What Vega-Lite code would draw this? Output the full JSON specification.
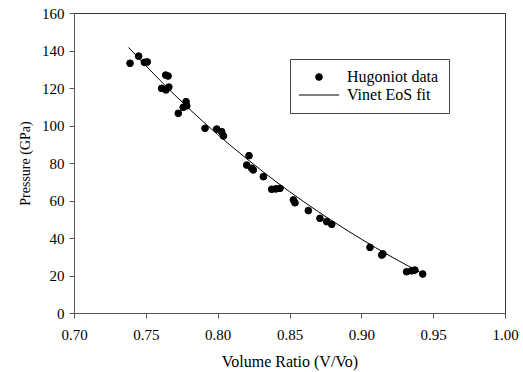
{
  "$schema": "https://vega.github.io/schema/vega-lite/v6.json",
  "width": 431,
  "height": 300,
  "autosize": "none",
  "padding": {"left": 74, "top": 13, "right": 18, "bottom": 59},
  "background": "white",
  "config": {
    "font": "Times New Roman",
    "view": {"stroke": "#333333", "strokeWidth": 1},
    "axis": {
      "grid": false,
      "labelFont": "Times New Roman",
      "titleFont": "Times New Roman",
      "labelFontSize": 15,
      "titleFontSize": 15,
      "labelColor": "black",
      "titleColor": "black",
      "titleFontWeight": "normal",
      "domainColor": "#555555",
      "tickColor": "#555555",
      "tickSize": 5
    },
    "legend": {
      "labelFont": "Times New Roman"
    }
  },
  "datasets": {
    "hugoniot": [
      {"v": 0.739, "p": 133.2, "series": "Hugoniot data"},
      {"v": 0.745, "p": 137.0, "series": "Hugoniot data"},
      {"v": 0.749, "p": 133.7, "series": "Hugoniot data"},
      {"v": 0.751, "p": 133.9, "series": "Hugoniot data"},
      {"v": 0.7638, "p": 126.9, "series": "Hugoniot data"},
      {"v": 0.7655, "p": 126.4, "series": "Hugoniot data"},
      {"v": 0.761, "p": 119.8, "series": "Hugoniot data"},
      {"v": 0.764, "p": 119.0, "series": "Hugoniot data"},
      {"v": 0.766, "p": 120.5, "series": "Hugoniot data"},
      {"v": 0.778, "p": 112.7, "series": "Hugoniot data"},
      {"v": 0.776, "p": 109.7, "series": "Hugoniot data"},
      {"v": 0.7726, "p": 106.5, "series": "Hugoniot data"},
      {"v": 0.7785, "p": 110.5, "series": "Hugoniot data"},
      {"v": 0.7912, "p": 98.5, "series": "Hugoniot data"},
      {"v": 0.7993, "p": 98.1, "series": "Hugoniot data"},
      {"v": 0.8028, "p": 96.7, "series": "Hugoniot data"},
      {"v": 0.804, "p": 94.4, "series": "Hugoniot data"},
      {"v": 0.8218, "p": 83.9, "series": "Hugoniot data"},
      {"v": 0.8202, "p": 78.9, "series": "Hugoniot data"},
      {"v": 0.8237, "p": 77.2, "series": "Hugoniot data"},
      {"v": 0.8248, "p": 76.3, "series": "Hugoniot data"},
      {"v": 0.8318, "p": 72.7, "series": "Hugoniot data"},
      {"v": 0.8376, "p": 66.0, "series": "Hugoniot data"},
      {"v": 0.8405, "p": 66.2, "series": "Hugoniot data"},
      {"v": 0.8434, "p": 66.5, "series": "Hugoniot data"},
      {"v": 0.8527, "p": 60.3, "series": "Hugoniot data"},
      {"v": 0.8538, "p": 58.8, "series": "Hugoniot data"},
      {"v": 0.8631, "p": 54.6, "series": "Hugoniot data"},
      {"v": 0.8712, "p": 50.5, "series": "Hugoniot data"},
      {"v": 0.8759, "p": 48.7, "series": "Hugoniot data"},
      {"v": 0.8794, "p": 47.3, "series": "Hugoniot data"},
      {"v": 0.906, "p": 35.0, "series": "Hugoniot data"},
      {"v": 0.9142, "p": 30.9, "series": "Hugoniot data"},
      {"v": 0.915, "p": 31.5, "series": "Hugoniot data"},
      {"v": 0.9315, "p": 22.0, "series": "Hugoniot data"},
      {"v": 0.935, "p": 22.5, "series": "Hugoniot data"},
      {"v": 0.9373, "p": 22.9, "series": "Hugoniot data"},
      {"v": 0.9427, "p": 20.8, "series": "Hugoniot data"}
    ],
    "fit": [
      {"v": 0.738, "p": 141.6, "series": "Vinet EoS fit"},
      {"v": 0.76, "p": 124.0, "series": "Vinet EoS fit"},
      {"v": 0.78, "p": 109.0, "series": "Vinet EoS fit"},
      {"v": 0.80, "p": 95.2, "series": "Vinet EoS fit"},
      {"v": 0.82, "p": 82.4, "series": "Vinet EoS fit"},
      {"v": 0.84, "p": 70.4, "series": "Vinet EoS fit"},
      {"v": 0.86, "p": 59.3, "series": "Vinet EoS fit"},
      {"v": 0.88, "p": 49.0, "series": "Vinet EoS fit"},
      {"v": 0.90, "p": 39.4, "series": "Vinet EoS fit"},
      {"v": 0.92, "p": 30.4, "series": "Vinet EoS fit"},
      {"v": 0.945, "p": 20.0, "series": "Vinet EoS fit"}
    ]
  },
  "encoding": {
    "x": {
      "field": "v", "type": "quantitative",
      "scale": {"domain": [0.7, 1.0], "nice": false, "zero": false},
      "axis": {"values": [0.7, 0.75, 0.8, 0.85, 0.9, 0.95, 1.0], "format": ".2f", "title": "Volume Ratio (V/Vo)", "titleFontSize": 16, "labelPadding": 9, "titlePadding": 11, "labelFlush": false}
    },
    "y": {
      "field": "p", "type": "quantitative",
      "scale": {"domain": [0, 160], "nice": false},
      "axis": {"values": [0, 20, 40, 60, 80, 100, 120, 140, 160], "title": "Pressure (GPa)", "titleFontSize": 14, "labelPadding": 5, "titlePadding": 9}
    }
  },
  "layer": [
    {
      "data": {"name": "fit"},
      "mark": {"type": "line", "interpolate": "monotone", "strokeWidth": 1, "color": "black"},
      "encoding": {}
    },
    {
      "data": {"name": "hugoniot"},
      "mark": {"type": "point", "filled": true, "fill": "black", "opacity": 1, "size": 45, "strokeWidth": 1},
      "encoding": {
        "stroke": {"field": "series", "type": "nominal",
          "scale": {"domain": ["Hugoniot data", "Vinet EoS fit"], "range": ["black", "black"]},
          "legend": {"title": null, "orient": "none", "legendX": 216, "legendY": 46,
            "labelFontSize": 16, "labelColor": "black",
            "labelOffset": 20, "strokeColor": "#444444", "padding": 10, "rowPadding": 2,
            "symbolSize": 45, "symbolStrokeWidth": 1, "symbolOffset": 11}},
        "shape": {"field": "series", "type": "nominal",
          "scale": {"domain": ["Hugoniot data", "Vinet EoS fit"], "range": ["circle", "M-6,0H6"]},
          "legend": {"title": null}}
      }
    }
  ]
}
